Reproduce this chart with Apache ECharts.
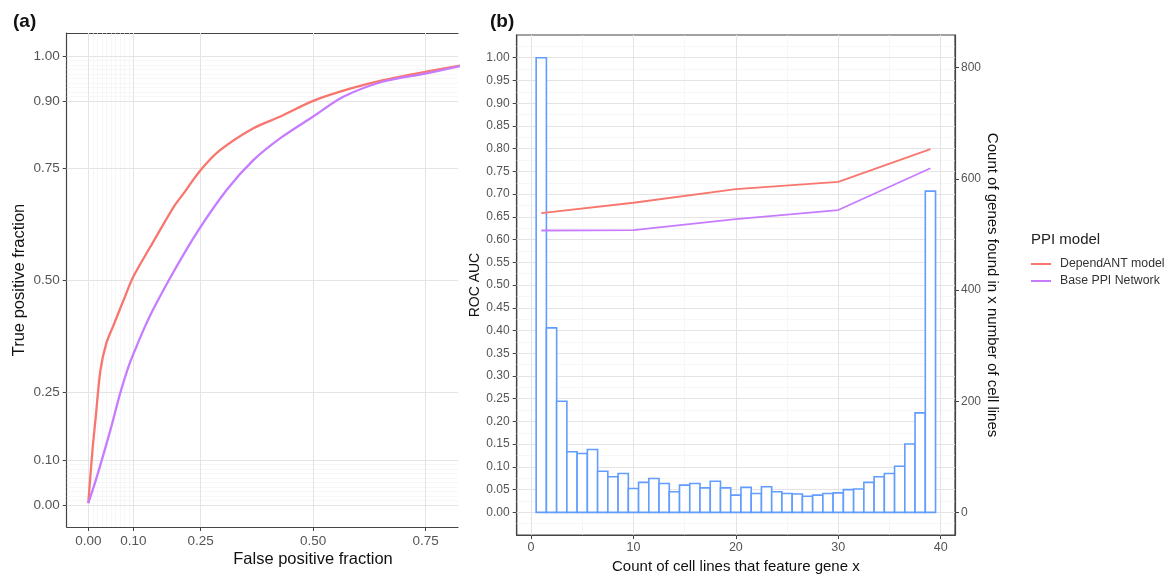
<!DOCTYPE html>
<html>
<head>
<meta charset="utf-8">
<script src="https://cdn.jsdelivr.net/npm/echarts@6/dist/echarts.min.js"></script>
<style>
html,body{margin:0;padding:0;background:#fff;}
#chart{width:1167px;height:579px;}
</style>
</head>
<body>
<div id="chart"></div>
<script>
// ---------- Panel (a): ROC curves ----------
var rocFprDependANT = [0, 0.004, 0.010, 0.016, 0.027, 0.040, 0.056, 0.078, 0.100, 0.138, 0.190, 0.212, 0.250, 0.293, 0.367, 0.427, 0.500, 0.582, 0.656, 0.752, 0.830];
var rocTprDependANT = [0.004, 0.056, 0.130, 0.190, 0.300, 0.360, 0.400, 0.455, 0.508, 0.575, 0.664, 0.694, 0.746, 0.790, 0.839, 0.865, 0.900, 0.927, 0.946, 0.965, 0.979];
var rocFprBase = [0, 0.015, 0.030, 0.050, 0.071, 0.090, 0.108, 0.125, 0.145, 0.190, 0.245, 0.308, 0.367, 0.427, 0.500, 0.567, 0.656, 0.752, 0.830];
var rocTprBase = [0.004, 0.050, 0.100, 0.170, 0.249, 0.310, 0.355, 0.395, 0.437, 0.520, 0.612, 0.702, 0.768, 0.817, 0.865, 0.909, 0.943, 0.961, 0.978];
var rocXTicks = [0, 0.10, 0.25, 0.50, 0.75];
var rocYTicks = [0, 0.10, 0.25, 0.50, 0.75, 0.90, 1.00];
var rocMinorX = [0.01, 0.02, 0.03, 0.04, 0.05, 0.06, 0.07, 0.08, 0.09];
var rocMinorY = [0.01, 0.02, 0.03, 0.04, 0.05, 0.06, 0.07, 0.08, 0.09, 0.91, 0.92, 0.93, 0.94, 0.95, 0.96, 0.97, 0.98, 0.99];

// ---------- Panel (b): AUC by cell-line count + histogram ----------
var aucX = [1, 10, 20, 30, 39];
var aucDependANT = [0.658, 0.681, 0.711, 0.727, 0.799];
var aucBase = [0.620, 0.621, 0.645, 0.665, 0.757];
var histX = [1,2,3,4,5,6,7,8,9,10,11,12,13,14,15,16,17,18,19,20,21,22,23,24,25,26,27,28,29,30,31,32,33,34,35,36,37,38,39];
var histCount = [818,332,200,109,106,113,74,64,70,43,54,61,52,37,49,52,44,56,44,31,45,34,46,37,34,33,29,31,34,35,41,42,54,64,70,83,123,179,578];
var bXTicks = [0, 10, 20, 30, 40];
var bXMinor = [5, 15, 25, 35];
var bYTicks = [0,0.05,0.10,0.15,0.20,0.25,0.30,0.35,0.40,0.45,0.50,0.55,0.60,0.65,0.70,0.75,0.80,0.85,0.90,0.95,1.00];
var bYMinor = [-0.025,0.025,0.075,0.125,0.175,0.225,0.275,0.325,0.375,0.425,0.475,0.525,0.575,0.625,0.675,0.725,0.775,0.825,0.875,0.925,0.975,1.025];
var countTicks = [0, 200, 400, 600, 800];
var countScale = 818; // count corresponding to AUC = 1 on the secondary axis

var seriesNames = ['DependANT model', 'Base PPI Network'];
var RED = '#F8766D', PURPLE = '#C77CFF', BLUE = '#619CFF';
var FONT = '"Liberation Sans", Arial, Helvetica, sans-serif';
var MAJOR = {color: '#e4e4e4', width: 1, type: 'solid'};
var MINOR = {color: '#f1f1f1', width: 0.6, type: 'solid'};
var AXISC = '#444';

function zip(a, b) { return a.map(function (v, i) { return [v, b[i]]; }); }
function gl(key, vals, style) {
  return vals.map(function (v) { var o = {lineStyle: style}; o[key] = v; return o; });
}
function markLines(data) {
  return {silent: true, symbol: ['none', 'none'], label: {show: false}, animation: false, z: 1, data: data};
}
function fmt2(v) { return v.toFixed(2); }

var chart = echarts.init(document.getElementById('chart'), null, {renderer: 'canvas'});

var option = {
  animation: false,
  backgroundColor: '#ffffff',
  textStyle: {fontFamily: FONT},
  title: [
    {text: '{p|(}{b|a}{p|)}', left: 8, top: 7, textStyle: {rich: {p: {fontSize: 19, color: '#111', fontFamily: FONT}, b: {fontSize: 19, fontWeight: 'bold', color: '#111', fontFamily: FONT}}}},
    {text: '{p|(}{b|b}{p|)}', left: 485, top: 7, textStyle: {rich: {p: {fontSize: 19, color: '#111', fontFamily: FONT}, b: {fontSize: 19, fontWeight: 'bold', color: '#111', fontFamily: FONT}}}},
    {text: 'PPI model', left: 1026, top: 227, textStyle: {fontSize: 15, fontWeight: 'normal', color: '#222', fontFamily: FONT}}
  ],
  legend: {
    data: seriesNames,
    orient: 'vertical',
    left: 1026, top: 253,
    icon: 'rect', itemWidth: 20, itemHeight: 2, itemGap: 5,
    textStyle: {fontSize: 12.3, color: '#333', fontFamily: FONT, padding: [0, 0, 0, 4]},
    selectedMode: false
  },
  graphic: [
    {type: 'text', x: 313, y: 559, style: {text: 'False positive fraction', font: '16.5px ' + FONT, fill: '#111', textAlign: 'center', textVerticalAlign: 'middle'}}
  ],
  grid: [
    {left: 66.7, top: 33, width: 391.3, height: 494, containLabel: false},
    {left: 516.7, top: 35, width: 438.3, height: 503, containLabel: false, show: true, borderColor: AXISC, borderWidth: 1.2, backgroundColor: 'transparent'}
  ],
  xAxis: [
    {
      type: 'value', gridIndex: 0, min: -0.048, max: 0.822, position: 'bottom',
      axisLine: {show: true, onZero: false, lineStyle: {color: AXISC, width: 1.2}},
      axisTick: {show: true, length: 4, customValues: rocXTicks, lineStyle: {color: AXISC}},
      axisLabel: {customValues: rocXTicks, formatter: fmt2, color: '#555', fontSize: 13.5, margin: 7, fontFamily: FONT},
      splitLine: {show: false}
    },
    {
      type: 'value', gridIndex: 0, min: -0.048, max: 0.822, position: 'top',
      axisLine: {show: true, onZero: false, lineStyle: {color: AXISC, width: 1.2}},
      axisTick: {show: false}, axisLabel: {show: false}, splitLine: {show: false}
    },
    {
      type: 'value', gridIndex: 1, min: -1.4, max: 41.4, position: 'bottom',
      name: 'Count of cell lines that feature gene x', nameLocation: 'middle', nameGap: 22,
      nameTextStyle: {fontSize: 15, color: '#111', fontFamily: FONT},
      axisLine: {show: true, onZero: false, lineStyle: {color: AXISC, width: 1.2}},
      axisTick: {show: true, length: 4, customValues: bXTicks, lineStyle: {color: AXISC}},
      axisLabel: {customValues: bXTicks, color: '#555', fontSize: 12.5, margin: 6, fontFamily: FONT},
      splitLine: {show: false}
    }
  ],
  yAxis: [
    {
      type: 'value', gridIndex: 0, min: -0.049, max: 1.051, position: 'left',
      name: 'True positive fraction', nameLocation: 'middle', nameGap: 39,
      nameTextStyle: {fontSize: 16.5, color: '#111', fontFamily: FONT},
      axisLine: {show: true, onZero: false, lineStyle: {color: AXISC, width: 1.2}},
      axisTick: {show: true, length: 4, customValues: rocYTicks, lineStyle: {color: AXISC}},
      axisLabel: {customValues: rocYTicks, formatter: fmt2, color: '#555', fontSize: 13.5, margin: 7, fontFamily: FONT},
      splitLine: {show: false}
    },
    {
      type: 'value', gridIndex: 1, min: -0.05, max: 1.05, position: 'left',
      name: 'ROC AUC', nameLocation: 'middle', nameGap: 33,
      nameTextStyle: {fontSize: 14, color: '#111', fontFamily: FONT},
      axisLine: {show: true, onZero: false, lineStyle: {color: AXISC, width: 1.2}},
      axisTick: {show: true, length: 4, customValues: bYTicks, lineStyle: {color: AXISC}},
      axisLabel: {customValues: bYTicks, formatter: fmt2, color: '#555', fontSize: 12, margin: 7, fontFamily: FONT},
      splitLine: {show: false}
    },
    {
      type: 'value', gridIndex: 1, min: -0.05 * countScale, max: 1.05 * countScale, position: 'right',
      name: 'Count of genes found in x number of cell lines', nameLocation: 'middle', nameGap: 26, nameRotate: -90,
      nameTextStyle: {fontSize: 15, color: '#111', fontFamily: FONT},
      axisLine: {show: true, onZero: false, lineStyle: {color: AXISC, width: 1.2}},
      axisTick: {show: true, length: 4, customValues: countTicks, lineStyle: {color: AXISC}},
      axisLabel: {customValues: countTicks, color: '#555', fontSize: 12, margin: 6, fontFamily: FONT},
      splitLine: {show: false}
    }
  ],
  series: [
    {
      name: seriesNames[0], type: 'line', xAxisIndex: 0, yAxisIndex: 0, color: RED,
      data: zip(rocFprDependANT, rocTprDependANT), showSymbol: false, symbol: 'none', smooth: 0.3, clip: true, z: 3,
      lineStyle: {color: RED, width: 2.3},
      markLine: markLines([].concat(gl('xAxis', rocMinorX, MINOR), gl('yAxis', rocMinorY, MINOR), gl('xAxis', rocXTicks, MAJOR), gl('yAxis', rocYTicks, MAJOR)))
    },
    {
      name: seriesNames[1], type: 'line', xAxisIndex: 0, yAxisIndex: 0, color: PURPLE,
      data: zip(rocFprBase, rocTprBase), showSymbol: false, symbol: 'none', smooth: 0.3, clip: true, z: 3,
      lineStyle: {color: PURPLE, width: 2.3}
    },
    {
      name: 'Gene count', type: 'custom', xAxisIndex: 2, yAxisIndex: 2, z: 2,
      data: zip(histX, histCount),
      encode: {x: 0, y: 1},
      renderItem: function (params, api) {
        var x = api.value(0), c = api.value(1);
        var p0 = api.coord([x - 0.5, 0]);
        var p1 = api.coord([x + 0.5, c]);
        return {type: 'rect', shape: {x: p0[0], y: p1[1], width: p1[0] - p0[0], height: p0[1] - p1[1]},
          style: {fill: '#ffffff', stroke: BLUE, lineWidth: 1.6}};
      },
      markLine: markLines([].concat(gl('xAxis', bXMinor, MINOR), gl('yAxis', bYMinor.map(function (v) { return v * countScale; }), MINOR), gl('xAxis', bXTicks, MAJOR), gl('yAxis', bYTicks.map(function (v) { return v * countScale; }), MAJOR)))
    },
    {
      name: seriesNames[0], type: 'line', xAxisIndex: 2, yAxisIndex: 1, color: RED,
      data: zip(aucX, aucDependANT), showSymbol: false, symbol: 'none', z: 4,
      lineStyle: {color: RED, width: 1.8}
    },
    {
      name: seriesNames[1], type: 'line', xAxisIndex: 2, yAxisIndex: 1, color: PURPLE,
      data: zip(aucX, aucBase), showSymbol: false, symbol: 'none', z: 4,
      lineStyle: {color: PURPLE, width: 1.8}
    }
  ]
};
chart.setOption(option);
</script>
</body>
</html>
